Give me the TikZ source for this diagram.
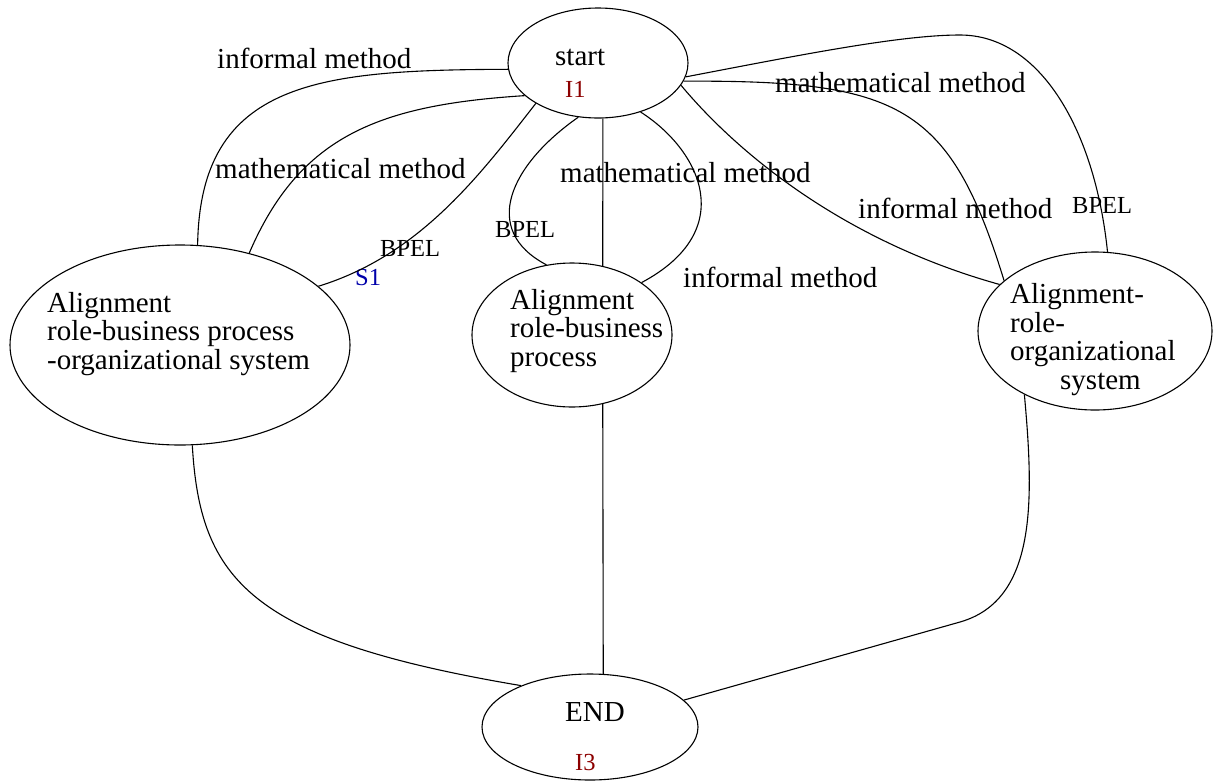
\documentclass[tikz,border=0pt]{standalone}
\usepackage{fontspec}
\setmainfont{Liberation Serif}
\usetikzlibrary{shapes.geometric}
\definecolor{idred}{RGB}{140,0,0}
\definecolor{idblue}{RGB}{0,0,170}
\begin{document}
\begin{tikzpicture}[
    x=1pt, y=-1pt,
    state/.style = { draw,ellipse,inner sep=0pt,line width=1.1pt },
    txt/.style = { inner sep=0pt,anchor=base west,align=left,font=\fontsize{29}{28.5}\selectfont },
    tag/.style = { inner sep=0pt,anchor=base west,font=\fontsize{24.5}{26}\selectfont },
    linkstyle/.style = { line width=1.1pt }
    ]
    \useasboundingbox (0,0) rectangle (1216,780);
    % Definitions
    \coordinate (stc) at ( 598, 63);
    \coordinate (lc)  at ( 180,345);
    \coordinate (mc)  at ( 572,335);
    \coordinate (rc)  at (1095,331);
    \coordinate (ec)  at ( 590,727);
    \coordinate (bpk) at ( 960, 35);
    \coordinate (rbd) at ( 960,622);
    % Nodes
    \node(S) at (stc) [state,minimum width=180pt,minimum height=110pt] {};
    \node(L) at (lc)  [state,minimum width=340pt,minimum height=200pt] {};
    \node(M) at (mc)  [state,minimum width=200pt,minimum height=144pt] {};
    \node(R) at (rc)  [state,minimum width=234pt,minimum height=158pt] {};
    \node(E) at (ec)  [state,minimum width=216pt,minimum height=106pt] {};
    \node(St) at ( 555, 65) [txt]            {start};
    \node(Si) at ( 565, 97) [tag,text=idred] {I1};
    \node(Lt) at (  47,369) [txt] {Alignment\\role-business process\\-organizational system};
    \node(Mt) at ( 510,366) [txt] {Alignment\\role-business\\process};
    \node(Rt) at (1010,389) [txt] {Alignment-\\role-\\organizational\\\hspace*{50pt}system};
    \node(Et) at ( 565,721) [txt]            {END};
    \node(Ei) at ( 575,770) [tag,text=idred] {I3};
    % Labels
    \node(l1)  at ( 217, 68) [txt] {informal method};
    \node(l2)  at ( 215,178) [txt] {mathematical method};
    \node(l3)  at ( 380,256) [tag] {BPEL};
    \node(s1)  at ( 355,285) [tag,text=idblue] {S1};
    \node(l4)  at ( 495,237) [tag] {BPEL};
    \node(l5)  at ( 560,182) [txt] {mathematical method};
    \node(l6)  at ( 683,287) [txt] {informal method};
    \node(l7)  at ( 775, 92) [txt] {mathematical method};
    \node(l8)  at ( 858,218) [txt] {informal method};
    \node(l9)  at (1072,213) [tag] {BPEL};
    % Connectors
    \draw[linkstyle] (S.184) .. controls (320,70) and (200,80) .. (L.80);
    \draw[linkstyle] (S.204) .. controls (380,105) and (300,135) .. (L.53);
    \draw[linkstyle] (S.213) .. controls (480,175) and (420,255) .. (L.23);
    \draw[linkstyle] (S.250) .. controls (510,165) and (480,230) .. (M.110);
    \draw[linkstyle] (S.275) -- (M.66);
    \draw[linkstyle] (S.311) .. controls (700,150) and (740,230) .. (M.37);
    \draw[linkstyle] (S.345) .. controls (735,150) and (840,240) .. (R.154);
    \draw[linkstyle] (S.348) .. controls (900,80) and (950,105) .. (R.151);
    \draw[linkstyle] (S.351) .. controls (800,55) and (900,35) .. (bpk)
                             .. controls (1040,35) and (1095,130) .. (R.81);
    \draw[linkstyle] (L.277) .. controls (200,580) and (250,640) .. (E.149);
    \draw[linkstyle] (M.294) -- (E.76);
    \draw[linkstyle] (R.222) .. controls (1034,500) and (1037,600) .. (rbd) -- (E.16);
\end{tikzpicture}
\end{document}
